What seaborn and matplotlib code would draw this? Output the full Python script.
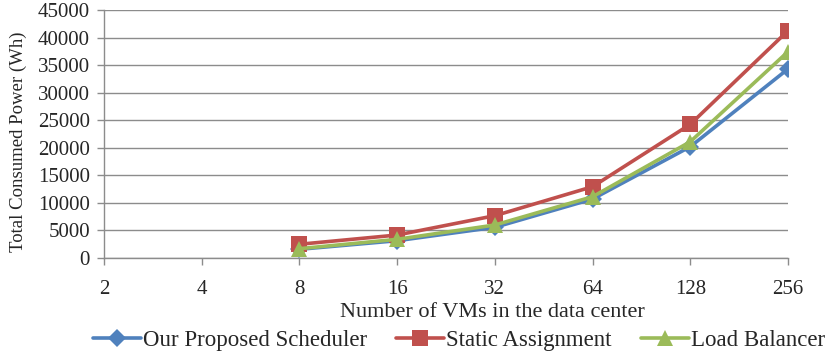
import numpy as np
import pandas as pd
import matplotlib
matplotlib.use("Agg")
import matplotlib.pyplot as plt
import seaborn as sns

# Number of VMs in the data center (categories on the x axis)
vm_counts = [2, 4, 8, 16, 32, 64, 128, 256]
tick_labels = ["2", "4", "8", "16", "32", "64", "128", "256"]

# Measured values exist only from 8 VMs upward
measured_vms = [8, 16, 32, 64, 128, 256]
proposed_scheduler = [1580, 3140, 5570, 10700, 20200, 34300]
static_assignment = [2490, 4170, 7680, 12940, 24260, 41250]
load_balancer = [1690, 3390, 5990, 11120, 21100, 37440]

series_names = ["Our Proposed Scheduler", "Static Assignment", "Load Balancer"]
series_values = [proposed_scheduler, static_assignment, load_balancer]
colors = ["#4F81BD", "#C0504D", "#9BBB59"]
markers = ["D", "s", "^"]
marker_sizes = [9, 11, 12]

y_ticks = list(range(0, 45001, 5000))

sns.set_theme(style="white")
plt.rcParams["font.family"] = ["Liberation Serif", "DejaVu Serif"]

fig = plt.figure(figsize=(8.32, 3.54), dpi=100)
ax = fig.add_axes([104 / 832, 1 - 258 / 354, (788 - 104) / 832, (258 - 10) / 354])

for name, vals, col, mk, ms in zip(series_names, series_values, colors, markers, marker_sizes):
    df = pd.DataFrame({"vms": measured_vms, "power": vals})
    sns.lineplot(data=df, x="vms", y="power", ax=ax, color=col, linewidth=2.6,
                 marker=mk, markersize=ms, markeredgewidth=0, label=name,
                 zorder=3)

ax.set_xscale("log", base=2)
ax.set_xlim(vm_counts[0], vm_counts[-1])
ax.set_xticks(vm_counts)
ax.set_xticklabels(tick_labels)
ax.minorticks_off()
ax.set_ylim(0, 45000)
ax.set_yticks(y_ticks)
ax.set_yticklabels([str(v) for v in y_ticks])

ax.yaxis.grid(True, color="#8C8C8C", linewidth=1.0)
ax.xaxis.grid(False)
for side in ["top", "right"]:
    ax.spines[side].set_visible(False)
for side in ["left", "bottom"]:
    ax.spines[side].set_color("#8C8C8C")
    ax.spines[side].set_linewidth(1.0)

ax.tick_params(axis="x", direction="out", length=5, width=1, color="#8C8C8C",
               labelsize=15, pad=11, bottom=True)
ax.tick_params(axis="y", direction="out", length=5, width=1, color="#8C8C8C",
               labelsize=15, pad=5, left=True)

ax.set_xlabel("Number of VMs in the data center", fontsize=16)
ax.xaxis.set_label_coords((492 - 104) / (788 - 104), -(303 - 258) / 248)
ax.set_ylabel("Total Consumed Power (Wh)", fontsize=13.5)
ax.yaxis.set_label_coords(-(104 - 27) / 684, 0.47)

ax.get_legend().remove()
handles, labels = ax.get_legend_handles_labels()
fig.legend(handles, labels, loc="center", bbox_to_anchor=(459 / 832, 1 - 340 / 354),
           ncol=3, frameon=False, fontsize=16.5, handlelength=2.1, handletextpad=0.1,
           columnspacing=1.25, borderaxespad=0, borderpad=0)

fig.savefig("out.png", dpi=100, facecolor="white")
